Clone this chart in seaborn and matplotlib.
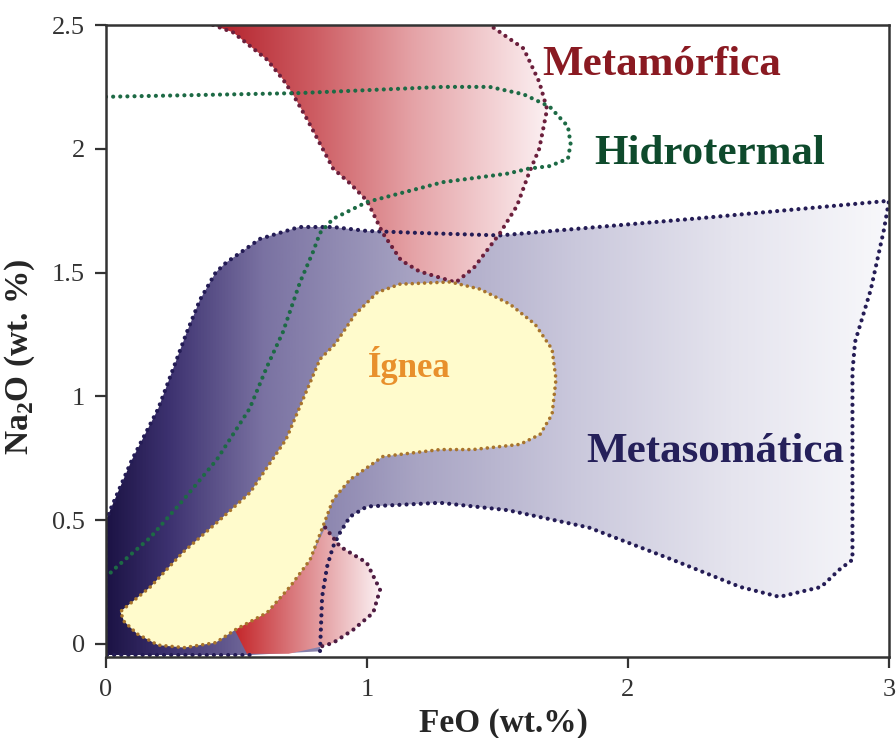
import numpy as np
import matplotlib
matplotlib.use("Agg")
import matplotlib.pyplot as plt
import seaborn as sns
from matplotlib.patches import Polygon
from matplotlib.colors import LinearSegmentedColormap

# ---------------- data (FeO wt.% , Na2O wt.%) ----------------
meta_x = [0.55, 0.0, 0.0, 0.02, 0.10, 0.20, 0.31, 0.36, 0.42, 0.46, 0.59, 0.74, 0.87, 1.0, 1.2, 1.51,
          2.28, 3.0, 2.98, 2.93, 2.87, 2.86, 2.86, 2.81, 2.74, 2.58, 2.43, 2.17, 1.85, 1.54, 1.28,
          1.0, 0.935, 0.897, 0.87, 0.847, 0.828, 0.82]
meta_y = [-0.045, -0.045, 0.50, 0.55, 0.745, 0.95, 1.26, 1.39, 1.50, 1.54, 1.636, 1.684, 1.684, 1.668,
          1.66, 1.65, 1.72, 1.79, 1.67, 1.43, 1.22, 1.10, 0.34, 0.30, 0.23, 0.19, 0.23, 0.34, 0.47,
          0.54, 0.57, 0.555, 0.514, 0.45, 0.393, 0.312, 0.19, -0.03]

metam_x = [0.41, 0.487, 0.617, 0.678, 0.716, 0.77, 0.82, 0.87, 0.935, 1.0, 1.06, 1.13, 1.2, 1.34,
           1.41, 1.51, 1.575, 1.62, 1.66, 1.69, 1.66, 1.60, 1.47]
metam_y = [2.5, 2.47, 2.36, 2.28, 2.22, 2.12, 2.02, 1.92, 1.86, 1.79, 1.66, 1.55, 1.505, 1.46,
           1.52, 1.66, 1.77, 1.90, 2.0, 2.16, 2.27, 2.405, 2.5]

metam2_x = [0.54, 0.487, 0.617, 0.705, 0.782, 0.84, 0.897, 0.999, 1.05, 1.024, 0.947, 0.87, 0.82, 0.70]
metam2_y = [-0.04, 0.069, 0.126, 0.231, 0.34, 0.47, 0.393, 0.328, 0.219, 0.126, 0.057, 0.004, -0.012, -0.04]

hidro_x = [0.0, 0.74, 1.29, 1.47, 1.60, 1.70, 1.77, 1.78, 1.77, 1.70, 1.62, 1.54, 1.29, 1.0, 0.87,
           0.82, 0.793, 0.743, 0.678, 0.617, 0.55, 0.425, 0.295, 0.17, 0.04, 0.0]
hidro_y = [2.21, 2.225, 2.25, 2.25, 2.22, 2.17, 2.09, 2.02, 1.96, 1.93, 1.92, 1.90, 1.865, 1.785,
           1.717, 1.66, 1.583, 1.46, 1.26, 1.12, 0.95, 0.745, 0.58, 0.43, 0.31, 0.27]

ign_x = [1.126, 1.318, 1.433, 1.548, 1.644, 1.709, 1.724, 1.709, 1.663, 1.586, 1.406, 1.28, 1.061,
         0.935, 0.87, 0.831, 0.782, 0.705, 0.617, 0.50, 0.42, 0.30, 0.20, 0.12, 0.07, 0.055, 0.17,
         0.295, 0.425, 0.552, 0.69, 0.82, 0.877, 0.954, 1.04]
ign_y = [1.453, 1.462, 1.433, 1.372, 1.291, 1.19, 1.069, 0.927, 0.846, 0.806, 0.785, 0.785, 0.757,
         0.664, 0.583, 0.474, 0.34, 0.231, 0.126, 0.06, 0.005, -0.015, -0.005, 0.04, 0.09, 0.13, 0.23,
         0.37, 0.49, 0.611, 0.826, 1.15, 1.21, 1.33, 1.42]

x_ticks = [0, 1, 2, 3]
x_ticklabels = ["0", "1", "2", "3"]
y_ticks = [0, 0.5, 1, 1.5, 2, 2.5]
y_ticklabels = ["0", "0.5", "1", "1.5", "2", "2.5"]

labels = ["Metamórfica", "Hidrotermal", "Ígnea", "Metasomática"]

# ---------------- style ----------------
sns.set_style("ticks")
plt.rcParams["font.family"] = ["Liberation Serif", "DejaVu Serif"]
plt.rcParams["mathtext.fontset"] = "custom"
plt.rcParams["mathtext.rm"] = "Liberation Serif"
plt.rcParams["mathtext.bf"] = "Liberation Serif:bold"
plt.rcParams["axes.edgecolor"] = "#333333"

fig = plt.figure(figsize=(8.96, 7.38), dpi=100)
ax = fig.add_axes([106 / 896, 81 / 738, 783 / 896, 632 / 738])

XMIN, XMAX, YMIN, YMAX = 0, 3, -0.053, 2.5


def grad_fill(xs, ys, colors, z, x0=None, x1=None):
    poly = Polygon(np.column_stack([xs, ys]), closed=True, facecolor="none",
                   edgecolor="none", zorder=z)
    ax.add_patch(poly)
    x0 = min(xs) if x0 is None else x0
    x1 = max(xs) if x1 is None else x1
    cmap = LinearSegmentedColormap.from_list("g", colors)
    grad = np.linspace(0, 1, 512).reshape(1, -1)
    im = ax.imshow(grad, cmap=cmap, extent=[x0, x1, min(ys), max(ys)], aspect="auto",
                   origin="lower", zorder=z, interpolation="bilinear")
    im.set_clip_path(poly)


def dotted(xs, ys, color, z, lw=3.0):
    sns.lineplot(x=xs, y=ys, sort=False, estimator=None, color=color, linewidth=lw,
                 linestyle=(0, (0.01, 1.7)), dash_capstyle="round", ax=ax, zorder=z,
                 legend=False)


purple_cols = [(0.0, "#1c1345"), (0.08, "#3d3270"), (0.2, "#7a72a2"), (0.4, "#a9a5c4"),
               (0.6, "#cac8dc"), (0.8, "#e5e4ee"), (1.0, "#f8f8fb")]
red_cols = [(0.0, "#b3202a"), (0.3, "#cd5c62"), (0.6, "#e5a3a7"), (1.0, "#fcf0f2")]
red2_cols = [(0.0, "#c42428"), (0.4, "#d9777b"), (1.0, "#fbf0f2")]

grad_fill(meta_x, meta_y, purple_cols, 1, x0=0.0, x1=3.0)
grad_fill(metam_x, metam_y, red_cols, 2)
grad_fill(metam2_x, metam2_y, red2_cols, 2)

dotted(meta_x, meta_y, "#241c55", 3)
dotted(metam_x, metam_y, "#6b1f3c", 3)
dotted(metam2_x[5:13], metam2_y[5:13], "#4e1c42", 3)

ax.fill(ign_x, ign_y, color="#fffbcc", zorder=4, lw=0)
dotted(ign_x + [ign_x[0]], ign_y + [ign_y[0]], "#a8742c", 5, lw=2.6)

dotted(hidro_x, hidro_y, "#1d6a45", 6)

# ---------------- labels ----------------
ax.text(2.13, 2.30, labels[0], color="#8a1a22", fontsize=31, fontweight="bold",
        ha="center", va="baseline", zorder=7)
ax.text(2.314, 1.94, labels[1], color="#0e4a2c", fontsize=31, fontweight="bold",
        ha="center", va="baseline", zorder=7)
ax.text(1.16, 1.08, labels[2], color="#e8902c", fontsize=25, fontweight="bold",
        ha="center", va="baseline", zorder=7)
ax.text(2.333, 0.733, labels[3], color="#25205a", fontsize=31, fontweight="bold",
        ha="center", va="baseline", zorder=7)

ax.set_xlim(XMIN, XMAX)
ax.set_ylim(YMIN, YMAX)
ax.set_xticks(x_ticks)
ax.set_xticklabels(x_ticklabels)
ax.set_yticks(y_ticks)
ax.set_yticklabels(y_ticklabels)
ax.tick_params(direction="out", length=8, width=1.6, labelsize=19, colors="#333333")
ax.tick_params(axis="x", pad=8)
ax.tick_params(axis="y", pad=7)
for s in ax.spines.values():
    s.set_linewidth(1.8)
    s.set_zorder(10)

ax.set_xlabel("FeO (wt.%)", fontsize=24, fontweight="bold")
ax.set_ylabel(r"Na$_\mathbf{2}$O (wt. %)", fontsize=24, fontweight="bold")
ax.xaxis.set_label_coords(0.507, -0.08)
ax.yaxis.set_label_coords(-0.088, 0.475)

fig.savefig("out.png", dpi=100)
